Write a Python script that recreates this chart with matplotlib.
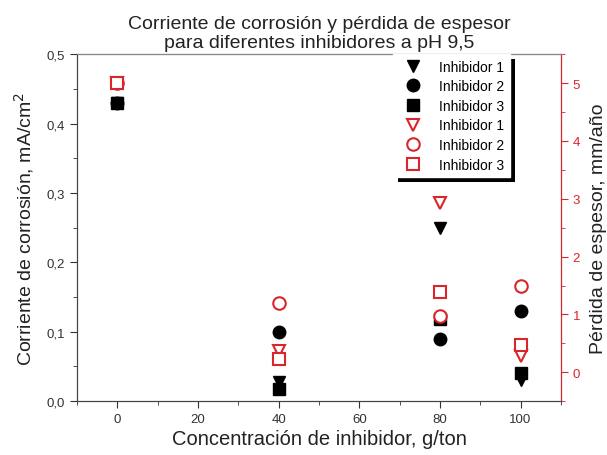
import numpy as np
import matplotlib
matplotlib.use("Agg")
import matplotlib.pyplot as plt
from matplotlib.ticker import MultipleLocator, FuncFormatter
from matplotlib.patches import Rectangle

plt.rcParams['font.family'] = ['Liberation Sans', 'DejaVu Sans']

# Concentration of inhibitor, g/ton
conc = [0, 40, 80, 100]

# Corrosion current, mA/cm2 (left axis)
corr_inh1 = [0.43, 0.028, 0.25, 0.03]
corr_inh2 = [0.43, 0.10, 0.09, 0.13]
corr_inh3 = [0.43, 0.018, 0.118, 0.04]

# Thickness loss, mm/year (right axis)
loss_inh1 = [5.0, 0.36, 2.92, 0.29]
loss_inh2 = [5.0, 1.19, 0.98, 1.50]
loss_inh3 = [5.0, 0.23, 1.39, 0.47]

labels = ["Inhibidor 1", "Inhibidor 2", "Inhibidor 3"]
red = "#d8262b"

fig = plt.figure(figsize=(6.07, 4.56), dpi=100)
ax = fig.add_axes([0.127, 0.118, 0.797, 0.761])
ax2 = ax.twinx()

ms = 9
h3, = ax.plot(conc, corr_inh3, "s", color="k", ms=ms - 1, label=labels[2])
h2, = ax.plot(conc, corr_inh2, "o", color="k", ms=ms, label=labels[1])
h1, = ax.plot(conc, corr_inh1, "v", color="k", ms=ms, label=labels[0])

h5, = ax2.plot(conc, loss_inh2, "o", mfc="white", mec=red, mew=1.5, ms=ms, label=labels[1])
h4, = ax2.plot(conc, loss_inh1, "v", mfc="white", mec=red, mew=1.5, ms=ms, label=labels[0])
h6, = ax2.plot(conc, loss_inh3, "s", mfc="white", mec=red, mew=1.5, ms=ms - 1, label=labels[2])

ax.set_xlim(-10, 110)
ax.set_ylim(0, 0.5)
ax2.set_ylim(-0.5, 5.5)

comma = FuncFormatter(lambda v, p: f"{v:.1f}".replace(".", ","))
ax.xaxis.set_major_locator(MultipleLocator(20))
ax.xaxis.set_minor_locator(MultipleLocator(10))
ax.yaxis.set_major_locator(MultipleLocator(0.1))
ax.yaxis.set_minor_locator(MultipleLocator(0.05))
ax.yaxis.set_major_formatter(comma)
ax2.yaxis.set_major_locator(MultipleLocator(1))
ax2.yaxis.set_minor_locator(MultipleLocator(0.5))

ax.tick_params(which="both", direction="out", labelsize=9.5, colors="#333333")
ax.tick_params(which="major", length=5)
ax.tick_params(which="minor", length=3)
ax2.tick_params(which="both", direction="out", labelsize=9.5, colors=red)
ax2.tick_params(which="major", length=5)
ax2.tick_params(which="minor", length=3)

for s in ["left", "bottom"]:
    ax.spines[s].set_color("#444444")
ax2.spines["top"].set_color("#888888")
ax2.spines["left"].set_color("#444444")
ax2.spines["bottom"].set_color("#444444")
ax2.spines["right"].set_color(red)

ax.set_xlabel("Concentración de inhibidor, g/ton", fontsize=14.5, color="#222222", labelpad=3)
ax.set_ylabel("Corriente de corrosión, mA/cm$^2$", fontsize=14, color="#222222", labelpad=8)
ax2.set_ylabel("Pérdida de espesor, mm/año", fontsize=14, color="#222222", labelpad=7)
ax.set_title("Corriente de corrosión y pérdida de espesor\npara diferentes inhibidores a pH 9,5",
             fontsize=14, color="#222222", pad=5, linespacing=1.15)

leg = ax2.legend(handles=[h1, h2, h3, h4, h5, h6], loc="upper right",
                 bbox_to_anchor=(0.895, 1.0), fontsize=10, frameon=True,
                 fancybox=False, edgecolor="white", framealpha=1,
                 borderaxespad=0, labelspacing=0.4, handletextpad=0.9,
                 borderpad=0.4)

# thick black drop shadow behind the legend box
fig.canvas.draw()
bb = leg.get_window_extent()
ax2.add_patch(Rectangle((bb.x0 + 5, bb.y0 - 5), bb.width, bb.height,
                        transform=None, facecolor="k", edgecolor="none",
                        zorder=4, clip_on=False))

fig.savefig("out.png", dpi=100)
